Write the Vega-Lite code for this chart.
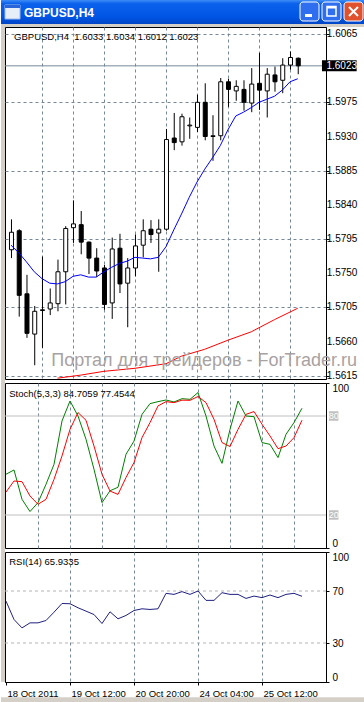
{
  "$schema": "https://vega.github.io/schema/vega-lite/v6.json",
  "padding": 0,
  "background": "white",
  "spacing": 0,
  "bounds": "flush",
  "config": {
    "font": "Liberation Sans",
    "axis": {"labelFont": "Liberation Sans", "labelFontSize": 10, "labelColor": "#000000", "tickColor": "#000000", "domainColor": "#000000", "labelOverlap": false},
    "text": {"font": "Liberation Sans", "fontSize": 10, "color": "#000000"},
    "line": {"strokeWidth": 1}
  },
  "resolve": {"scale": {"x": "independent", "y": "independent"}, "axis": {"x": "independent", "y": "independent"}},
  "datasets": {
    "one": [{}],
    "bars": [
      {"i":0,"open":1.5781,"high":1.5821,"low":1.5770,"close":1.5804,"ma":1.5787,"stoch":44.7,"signal":33.9,"rsi":62.2},
      {"i":1,"open":1.5806,"high":1.5808,"low":1.5693,"close":1.5721,"ma":1.5777,"stoch":47.3,"signal":40.6,"rsi":48.1},
      {"i":2,"open":1.5723,"high":1.5748,"low":1.5665,"close":1.5671,"ma":1.5765,"stoch":29.5,"signal":40.2,"rsi":41.6},
      {"i":3,"open":1.5670,"high":1.5707,"low":1.5629,"close":1.5700,"ma":1.5752,"stoch":22.1,"signal":31.5,"rsi":45.5},
      {"i":4,"open":1.5701,"high":1.5772,"low":1.5652,"close":1.5702,"ma":1.5743,"stoch":27.5,"signal":26.5,"rsi":45.5},
      {"i":5,"open":1.5703,"high":1.5730,"low":1.5695,"close":1.5711,"ma":1.5737,"stoch":38.6,"signal":29.5,"rsi":47.3},
      {"i":6,"open":1.5710,"high":1.5768,"low":1.5700,"close":1.5752,"ma":1.5736,"stoch":50.7,"signal":41.6,"rsi":53.7},
      {"i":7,"open":1.5752,"high":1.5812,"low":1.5709,"close":1.5809,"ma":1.5739,"stoch":77.0,"signal":55.8,"rsi":60.4},
      {"i":8,"open":1.5810,"high":1.5846,"low":1.5790,"close":1.5815,"ma":1.5746,"stoch":89.1,"signal":71.9,"rsi":60.2},
      {"i":9,"open":1.5814,"high":1.5832,"low":1.5775,"close":1.5791,"ma":1.5748,"stoch":80.0,"signal":82.1,"rsi":57.1},
      {"i":10,"open":1.5791,"high":1.5792,"low":1.5749,"close":1.5770,"ma":1.5745,"stoch":65.9,"signal":77.4,"rsi":54.5},
      {"i":11,"open":1.5770,"high":1.5783,"low":1.5745,"close":1.5753,"ma":1.5745,"stoch":47.7,"signal":61.8,"rsi":51.9},
      {"i":12,"open":1.5757,"high":1.5761,"low":1.5702,"close":1.5709,"ma":1.5752,"stoch":27.5,"signal":44.7,"rsi":45.0},
      {"i":13,"open":1.5711,"high":1.5797,"low":1.5690,"close":1.5782,"ma":1.5758,"stoch":34.7,"signal":34.5,"rsi":54.0},
      {"i":14,"open":1.5783,"high":1.5802,"low":1.5724,"close":1.5736,"ma":1.5763,"stoch":36.8,"signal":32.5,"rsi":48.6},
      {"i":15,"open":1.5737,"high":1.5770,"low":1.5679,"close":1.5757,"ma":1.5766,"stoch":56.8,"signal":42.7,"rsi":51.2},
      {"i":16,"open":1.5757,"high":1.5801,"low":1.5746,"close":1.5786,"ma":1.5771,"stoch":64.8,"signal":51.8,"rsi":55.0},
      {"i":17,"open":1.5787,"high":1.5821,"low":1.5771,"close":1.5806,"ma":1.5770,"stoch":81.0,"signal":66.9,"rsi":56.3},
      {"i":18,"open":1.5808,"high":1.5820,"low":1.5790,"close":1.5801,"ma":1.5769,"stoch":87.5,"signal":76.0,"rsi":55.8},
      {"i":19,"open":1.5803,"high":1.5821,"low":1.5752,"close":1.5808,"ma":1.5771,"stoch":88.7,"signal":86.1,"rsi":56.3},
      {"i":20,"open":1.5808,"high":1.5940,"low":1.5806,"close":1.5926,"ma":1.5785,"stoch":89.7,"signal":88.7,"rsi":68.2},
      {"i":21,"open":1.5928,"high":1.5961,"low":1.5912,"close":1.5922,"ma":1.5807,"stoch":88.5,"signal":88.1,"rsi":67.4},
      {"i":22,"open":1.5923,"high":1.5960,"low":1.5918,"close":1.5956,"ma":1.5828,"stoch":90.5,"signal":89.6,"rsi":69.5},
      {"i":23,"open":1.5944,"high":1.5955,"low":1.5927,"close":1.5945,"ma":1.5850,"stoch":90.1,"signal":89.5,"rsi":67.4},
      {"i":24,"open":1.5942,"high":1.5985,"low":1.5936,"close":1.5975,"ma":1.5870,"stoch":94.2,"signal":91.8,"rsi":70.0},
      {"i":25,"open":1.5975,"high":1.6000,"low":1.5925,"close":1.5930,"ma":1.5887,"stoch":80.0,"signal":88.1,"rsi":62.8},
      {"i":26,"open":1.5930,"high":1.5958,"low":1.5898,"close":1.5931,"ma":1.5902,"stoch":61.8,"signal":78.0,"rsi":62.8},
      {"i":27,"open":1.5931,"high":1.6007,"low":1.5925,"close":1.6002,"ma":1.5918,"stoch":51.3,"signal":63.9,"rsi":68.7},
      {"i":28,"open":1.6002,"high":1.6006,"low":1.5969,"close":1.5992,"ma":1.5939,"stoch":71.9,"signal":61.5,"rsi":67.4},
      {"i":29,"open":1.5990,"high":1.6004,"low":1.5977,"close":1.5996,"ma":1.5957,"stoch":89.1,"signal":71.9,"rsi":67.4},
      {"i":30,"open":1.5992,"high":1.6004,"low":1.5964,"close":1.5975,"ma":1.5962,"stoch":80.0,"signal":81.0,"rsi":64.3},
      {"i":31,"open":1.5974,"high":1.6020,"low":1.5962,"close":1.5999,"ma":1.5968,"stoch":79.6,"signal":82.7,"rsi":66.1},
      {"i":32,"open":1.6000,"high":1.6040,"low":1.5965,"close":1.5991,"ma":1.5975,"stoch":63.9,"signal":75.0,"rsi":64.9},
      {"i":33,"open":1.5990,"high":1.6020,"low":1.5955,"close":1.6012,"ma":1.5979,"stoch":62.8,"signal":67.9,"rsi":66.9},
      {"i":34,"open":1.6011,"high":1.6022,"low":1.5989,"close":1.6002,"ma":1.5983,"stoch":54.8,"signal":60.2,"rsi":64.9},
      {"i":35,"open":1.6004,"high":1.6033,"low":1.5987,"close":1.6024,"ma":1.5991,"stoch":68.9,"signal":61.8,"rsi":67.4},
      {"i":36,"open":1.6024,"high":1.6042,"low":1.6018,"close":1.6034,"ma":1.6002,"stoch":76.0,"signal":66.9,"rsi":68.2},
      {"i":37,"open":1.6033,"high":1.6034,"low":1.6012,"close":1.6023,"ma":1.6006,"stoch":84.7059,"signal":77.4544,"rsi":65.9335}
    ],
    "slow": [
      {"i":6,"slow":1.5612},{"i":9,"slow":1.5616},{"i":12,"slow":1.5621},{"i":16,"slow":1.5625},
      {"i":20,"slow":1.5631},{"i":22,"slow":1.5641},{"i":25,"slow":1.5650},{"i":28,"slow":1.5662},
      {"i":31,"slow":1.5673},{"i":34,"slow":1.5689},{"i":37,"slow":1.5704}
    ],
    "priceLevels": [
      {"price":1.5615},{"price":1.5660},{"price":1.5705},{"price":1.5750},{"price":1.5795},{"price":1.5840},
      {"price":1.5885},{"price":1.5930},{"price":1.5975},{"price":1.6065}
    ],
    "current": [{"price": 1.6023}],
    "stochLevels": [{"level": 80}, {"level": 20}],
    "rsiLevels": [{"level": 70}, {"level": 30}]
  },
  "vconcat": [
    {
      "width": 364,
      "height": 27,
      "view": {"stroke": null, "fill": "#D4D0C8"},
      "data": {"name": "one"},
      "layer": [
        {
          "mark": {"type": "rect", "fill": {"gradient": "linear", "x1": 0, "y1": 0, "x2": 0, "y2": 1, "stops": [{"offset": 0, "color": "#3D8CF7"}, {"offset": 0.15, "color": "#0C62EB"}, {"offset": 0.7, "color": "#0055E5"}, {"offset": 1, "color": "#0046C6"}]}},
          "encoding": {
            "x": {"datum": 0, "type": "quantitative", "scale": {"domain": [0, 364], "nice": false, "zero": false}, "axis": null},
            "x2": {"datum": 364},
            "y": {"datum": 0, "type": "quantitative", "scale": {"domain": [0, 27], "nice": false, "zero": false, "reverse": true}, "axis": null},
            "y2": {"datum": 24}
          }
        },
        {
          "mark": {"type": "rect", "fill": "#E8EEF8", "stroke": "#9DB9EB", "strokeWidth": 1},
          "encoding": {"x": {"datum": 4}, "x2": {"datum": 19}, "y": {"datum": 5}, "y2": {"datum": 19}}
        },
        {
          "mark": {"type": "rect", "fill": "#2A66D8"},
          "encoding": {"x": {"datum": 4}, "x2": {"datum": 19}, "y": {"datum": 5}, "y2": {"datum": 8}}
        },
        {
          "mark": {"type": "rect", "fill": "#2F6FEF", "stroke": "#FFFFFF", "strokeWidth": 1, "cornerRadius": 3},
          "encoding": {"x": {"datum": 299}, "x2": {"datum": 318}, "y": {"datum": 2}, "y2": {"datum": 21}}
        },
        {
          "mark": {"type": "rect", "fill": "#2F6FEF", "stroke": "#FFFFFF", "strokeWidth": 1, "cornerRadius": 3},
          "encoding": {"x": {"datum": 321}, "x2": {"datum": 340}, "y": {"datum": 2}, "y2": {"datum": 21}}
        },
        {
          "mark": {"type": "rect", "fill": "#E0522E", "stroke": "#FFFFFF", "strokeWidth": 1, "cornerRadius": 3},
          "encoding": {"x": {"datum": 343}, "x2": {"datum": 362}, "y": {"datum": 2}, "y2": {"datum": 21}}
        },
        {
          "mark": {"type": "rect", "fill": "#FFFFFF"},
          "encoding": {"x": {"datum": 304}, "x2": {"datum": 311}, "y": {"datum": 14}, "y2": {"datum": 17}}
        },
        {
          "mark": {"type": "rect", "fill": null, "stroke": "#FFFFFF", "strokeWidth": 1.5},
          "encoding": {"x": {"datum": 326}, "x2": {"datum": 335}, "y": {"datum": 6.5}, "y2": {"datum": 16}}
        },
        {
          "mark": {"type": "rect", "fill": "#FFFFFF"},
          "encoding": {"x": {"datum": 326}, "x2": {"datum": 335}, "y": {"datum": 6}, "y2": {"datum": 8.5}}
        },
        {
          "mark": {"type": "rule", "color": "#FFFFFF", "strokeWidth": 2},
          "encoding": {"x": {"datum": 348}, "x2": {"datum": 357}, "y": {"datum": 7}, "y2": {"datum": 16}}
        },
        {
          "mark": {"type": "rule", "color": "#FFFFFF", "strokeWidth": 2},
          "encoding": {"x": {"datum": 357}, "x2": {"datum": 348}, "y": {"datum": 7}, "y2": {"datum": 16}}
        },
        {
          "mark": {"type": "text", "text": "GBPUSD,H4", "color": "#FFFFFF", "font": "Liberation Sans", "fontWeight": "bold", "fontSize": 12, "align": "left", "baseline": "middle"},
          "encoding": {"x": {"datum": 23}, "y": {"datum": 12.5}}
        }
      ]
    },
    {
      "spacing": 0,
      "bounds": "flush",
      "resolve": {"scale": {"x": "independent", "y": "independent"}, "axis": {"x": "independent", "y": "independent"}},
      "hconcat": [
        {
          "width": 4,
          "height": 655,
          "view": {"stroke": null, "fill": "#D4D0C8"},
          "data": {"name": "one"},
          "mark": {"type": "text"},
          "encoding": {"text": {"value": ""}}
        },
        {
          "spacing": 4,
          "bounds": "flush",
          "resolve": {"scale": {"x": "independent", "y": "independent"}, "axis": {"x": "independent", "y": "independent"}},
          "vconcat": [
            {
              "width": 321,
              "height": 352,
              "view": {"stroke": "#000000", "strokeWidth": 1, "fill": "#FFFFFF"},
              "layer": [
                {
                  "data": {"name": "current"},
                  "mark": {"type": "rule", "color": "#778899"},
                  "encoding": {
                    "y": {"field": "price", "type": "quantitative", "scale": {"domain": [1.56109, 1.60741], "nice": false, "zero": false},
                      "axis": {"orient": "right", "values": [1.5615, 1.566, 1.5705, 1.575, 1.5795, 1.584, 1.5885, 1.593, 1.5975, 1.602, 1.6065], "labels": false, "grid": true, "gridColor": "#778899", "gridDash": [3, 3], "tickSize": 3, "domain": true, "title": null}}
                  }
                },
                {
                  "data": {"name": "bars"},
                  "mark": {"type": "rule", "color": "#000000", "xOffset": 0.5, "clip": true},
                  "encoding": {
                    "x": {"field": "i", "type": "quantitative", "scale": {"domain": [-0.125, 40], "nice": false, "zero": false},
                      "axis": {"values": [4, 8, 12, 16, 20, 24, 28, 32, 36], "labels": false, "ticks": false, "domain": false, "grid": true, "gridColor": "#778899", "gridDash": [3, 3], "title": null}},
                    "y": {"field": "low", "type": "quantitative"},
                    "y2": {"field": "high"}
                  }
                },
                {
                  "data": {"name": "bars"},
                  "mark": {"type": "bar", "size": 4, "stroke": "#000000", "strokeWidth": 1, "xOffset": 0.5, "clip": true},
                  "encoding": {
                    "x": {"field": "i", "type": "quantitative"},
                    "y": {"field": "open", "type": "quantitative"},
                    "y2": {"field": "close"},
                    "fill": {"condition": {"test": "datum.close >= datum.open", "value": "#FFFFFF"}, "value": "#000000"}
                  }
                },
                {
                  "data": {"name": "bars"},
                  "mark": {"type": "line", "color": "#0000FF", "strokeWidth": 1},
                  "encoding": {"x": {"field": "i", "type": "quantitative"}, "y": {"field": "ma", "type": "quantitative"}}
                },
                {
                  "data": {"name": "slow"},
                  "mark": {"type": "line", "color": "#FF0000", "strokeWidth": 1, "clip": true},
                  "encoding": {"x": {"field": "i", "type": "quantitative"}, "y": {"field": "slow", "type": "quantitative"}}
                },
                {
                  "data": {"name": "one"},
                  "mark": {"type": "text", "text": "GBPUSD,H4\u00a0 1.6033 1.6034 1.6012 1.6023", "font": "Liberation Sans", "fontSize": 9.5, "align": "left", "baseline": "middle", "color": "#000000"},
                  "encoding": {"x": {"datum": 0.4}, "y": {"datum": 1.6061}}
                },
                {
                  "data": {"name": "one"},
                  "mark": {"type": "text", "text": "Портал для трейдеров - ForTrader.ru", "font": "Liberation Sans", "align": "left", "baseline": "middle", "fontSize": 18, "color": "#A8A2A2"},
                  "encoding": {"x": {"datum": 5.2}, "y": {"datum": 1.5635}}
                },
                {
                  "data": {"name": "priceLevels"},
                  "mark": {"type": "text", "font": "Liberation Sans", "fontSize": 10, "align": "left", "baseline": "middle", "color": "#000000"},
                  "encoding": {"x": {"datum": 40.75}, "y": {"field": "price", "type": "quantitative"}, "text": {"field": "price", "format": ".4f"}}
                },
                {
                  "data": {"name": "current"},
                  "mark": {"type": "rect", "color": "#000000", "height": 11},
                  "encoding": {"x": {"datum": 40.125}, "x2": {"datum": 44.6}, "y": {"field": "price", "type": "quantitative"}}
                },
                {
                  "data": {"name": "current"},
                  "mark": {"type": "text", "font": "Liberation Sans", "fontSize": 10, "align": "left", "baseline": "middle", "color": "#FFFFFF"},
                  "encoding": {"x": {"datum": 40.7}, "y": {"field": "price", "type": "quantitative"}, "text": {"field": "price", "format": ".4f"}}
                }
              ]
            },
            {
              "width": 321,
              "height": 165,
              "view": {"stroke": "#000000", "strokeWidth": 1, "fill": "#FFFFFF"},
              "layer": [
                {
                  "data": {"name": "stochLevels"},
                  "mark": {"type": "rule", "color": "#C0C0C0"},
                  "encoding": {
                    "y": {"field": "level", "type": "quantitative", "scale": {"domain": [0, 100], "nice": false, "zero": false},
                      "axis": {"orient": "right", "values": [0, 100], "labelFlush": true, "grid": false, "tickSize": 3, "labelPadding": 3, "domain": true, "title": null}}
                  }
                },
                {
                  "data": {"name": "bars"},
                  "mark": {"type": "line", "color": "#008000", "strokeWidth": 1},
                  "encoding": {
                    "x": {"field": "i", "type": "quantitative", "scale": {"domain": [-0.125, 40], "nice": false, "zero": false},
                      "axis": {"values": [4, 8, 12, 16, 20, 24, 28, 32, 36], "labels": false, "ticks": false, "domain": false, "grid": true, "gridColor": "#778899", "gridDash": [3, 3], "title": null}},
                    "y": {"field": "stoch", "type": "quantitative"}
                  }
                },
                {
                  "data": {"name": "bars"},
                  "mark": {"type": "line", "color": "#FF0000", "strokeWidth": 1},
                  "encoding": {"x": {"field": "i", "type": "quantitative"}, "y": {"field": "signal", "type": "quantitative"}}
                },
                {
                  "data": {"name": "one"},
                  "mark": {"type": "text", "text": "Stoch(5,3,3) 84.7059 77.4544", "font": "Liberation Sans", "fontSize": 9.5, "align": "left", "baseline": "middle", "color": "#000000"},
                  "encoding": {"x": {"datum": 0.4}, "y": {"datum": 93.3}}
                },
                {
                  "data": {"name": "stochLevels"},
                  "mark": {"type": "point", "shape": "square", "filled": true, "size": 90, "color": "#C0C0C0", "opacity": 1},
                  "encoding": {"x": {"datum": 40.96}, "y": {"field": "level", "type": "quantitative"}}
                },
                {
                  "data": {"name": "stochLevels"},
                  "mark": {"type": "text", "font": "Liberation Sans", "color": "#FFFFFF", "align": "center", "baseline": "middle", "fontSize": 9},
                  "encoding": {"x": {"datum": 40.96}, "y": {"field": "level", "type": "quantitative"}, "text": {"field": "level"}}
                }
              ]
            },
            {
              "width": 321,
              "height": 130,
              "view": {"stroke": "#000000", "strokeWidth": 1, "fill": "#FFFFFF"},
              "layer": [
                {
                  "data": {"name": "rsiLevels"},
                  "mark": {"type": "rule", "color": "#B4B4B4", "strokeDash": [3, 3]},
                  "encoding": {
                    "y": {"field": "level", "type": "quantitative", "scale": {"domain": [0, 100], "nice": false, "zero": false},
                      "axis": {"orient": "right", "values": [0, 30, 70, 100], "labelFlush": true, "grid": false, "tickSize": 3, "labelPadding": 3, "domain": true, "title": null}}
                  }
                },
                {
                  "data": {"name": "bars"},
                  "mark": {"type": "line", "color": "#202080", "strokeWidth": 1},
                  "encoding": {
                    "x": {"field": "i", "type": "quantitative", "scale": {"domain": [-0.125, 40], "nice": false, "zero": false},
                      "axis": {"orient": "bottom", "values": [0, 4, 8, 12, 16, 20, 24, 28, 32, 36],
                        "labelExpr": "datum.value == 0 ? '18 Oct 2011' : datum.value == 8 ? '19 Oct 12:00' : datum.value == 16 ? '20 Oct 20:00' : datum.value == 24 ? '24 Oct 04:00' : datum.value == 32 ? '25 Oct 12:00' : ''",
                        "labelAlign": "left", "labelPadding": 3, "labelOffset": 1, "labelFontSize": 9.5, "labelOverlap": false, "labelBound": false, "labelFlush": false,
                        "tickSize": 3, "tickOpacity": {"condition": {"test": "datum.value % 8 == 0", "value": 1}, "value": 0},
                        "grid": true, "gridColor": "#778899", "gridDash": [3, 3], "gridOpacity": {"condition": {"test": "datum.value == 0", "value": 0}, "value": 1},
                        "domain": true, "title": null}},
                    "y": {"field": "rsi", "type": "quantitative"}
                  }
                },
                {
                  "data": {"name": "one"},
                  "mark": {"type": "text", "text": "RSI(14) 65.9335", "font": "Liberation Sans", "fontSize": 9.5, "align": "left", "baseline": "middle", "color": "#000000"},
                  "encoding": {"x": {"datum": 0.4}, "y": {"datum": 92.5}}
                },
                {
                  "data": {"name": "one"},
                  "mark": {"type": "rect", "color": "#D4D0C8"},
                  "encoding": {"x": {"datum": -0.625}, "x2": {"datum": 44.875}, "y": {"datum": -11.8}, "y2": {"datum": -15.4}}
                }
              ]
            }
          ]
        }
      ]
    }
  ]
}
